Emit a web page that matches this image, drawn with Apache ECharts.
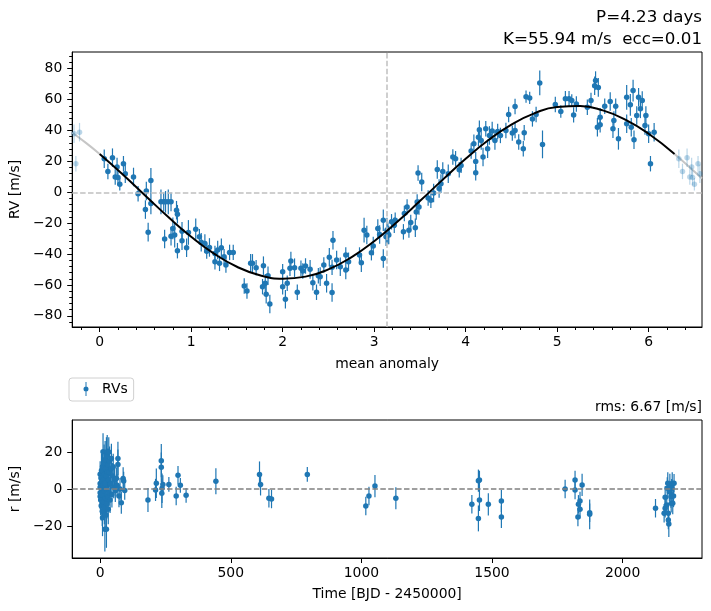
<!DOCTYPE html>
<html>
<head>
<meta charset="utf-8">
<script src="https://cdn.jsdelivr.net/npm/echarts@6/dist/echarts.min.js"></script>
<style>
html, body { margin: 0; padding: 0; background: #fff; }
#chart { width: 711px; height: 611px; }
</style>
</head>
<body>
<div id="chart"></div>
<script>
"use strict";

// phase-folded RVs: [mean anomaly, RV m/s, error m/s]
var rvPoints = [
    [0.05, 21.7, 6], [0.09, 13.5, 5], [0.14, 22.4, 6], [0.17, 9.9, 5], [0.19, 16.3, 6], [0.20, 9.5, 5],
    [0.22, 5.2, 4], [0.26, 18.5, 5], [0.28, 12, 6], [0.37, 9.9, 6], [0.42, -0.9, 5], [0.51, 0.8, 6],
    [0.50, -11.2, 6], [0.53, -25.8, 6], [0.56, 7.7, 8], [0.56, -7.3, 7], [0.67, -6.2, 8], [0.70, -6.2, 6],
    [0.72, -6.2, 7], [0.75, -6.2, 8], [0.78, -6.2, 6], [0.84, -11.6, 6], [0.85, -14.2, 6], [0.80, -23.4, 7],
    [0.78, -28.4, 6], [0.71, -30.3, 6], [0.85, -37.8, 5], [0.82, -27.7, 8], [0.90, -25.2, 6], [0.95, -35.9, 6],
    [0.97, -26.0, 8], [0.90, -31.4, 6], [1.05, -23.9, 7], [1.09, -28.8, 5], [1.11, -32.3, 6], [1.15, -33.1, 6],
    [1.17, -38.1, 5], [1.20, -35.7, 6], [1.26, -39.6, 5], [1.29, -37.4, 6], [1.33, -35.9, 6], [1.26, -45, 5],
    [1.31, -46, 5], [1.38, -47.1, 5], [1.42, -38.9, 5], [1.46, -38.9, 5], [1.36, -41.7, 5],
    [1.58, -60.6, 5], [1.61, -63.9, 5], [1.65, -46, 6], [1.67, -46, 6], [1.71, -48.8, 5], [1.79, -47.5, 6],
    [1.78, -61.1, 5], [1.81, -58.9, 6], [1.82, -66, 6], [1.86, -72.3, 6], [1.84, -54, 6], [2.00, -51.4, 5],
    [2.00, -61.1, 5], [2.03, -69.2, 6], [2.05, -58.9, 5], [2.08, -49.2, 5], [2.09, -44.5, 6], [2.13, -48.8, 6],
    [2.16, -64.7, 5], [2.20, -49.2, 5], [2.22, -51, 5], [2.25, -47.7, 5], [2.30, -49.9, 6], [2.33, -58.5, 5],
    [2.37, -64.7, 5], [2.39, -54, 5], [2.41, -54.6, 6], [2.45, -47.1, 5], [2.48, -58.9, 6], [2.51, -42.1, 6],
    [2.54, -64.9, 6], [2.55, -31, 6], [2.54, -48.6, 5], [2.59, -43.9, 6], [2.63, -48.2, 6], [2.69, -50.3, 6],
    [2.69, -40.6, 5], [2.72, -45, 6], [2.84, -40.6, 5], [2.86, -45.6, 6], [2.89, -24.5, 8], [2.92, -27.7, 6],
    [2.97, -39.1, 5], [2.99, -34.8, 6], [3.04, -23.4, 6], [3.06, -27.3, 6], [3.10, -18.1, 7], [3.10, -42.8, 6],
    [3.14, -24.5, 8], [3.16, -27.7, 6], [3.19, -19.1, 5], [3.23, -18.1, 5],
    [3.13, -28.8, 6], [3.15, -26.6, 7], [3.22, -21.3, 5], [3.32, -25.6, 5], [3.33, -13.7, 5], [3.36, -9.5, 5],
    [3.38, -24.5, 5], [3.40, -19.6, 5], [3.45, -23, 6], [3.46, -12.7, 5], [3.47, -6.3, 5], [3.48, 12.5, 5],
    [3.52, 6.6, 6], [3.49, -9.5, 5], [3.59, -3.7, 5], [3.62, -5.2, 5], [3.65, -0.5, 6], [3.69, 14.8, 6],
    [3.71, 2.4, 6], [3.73, 5.6, 6], [3.75, 13.5, 6], [3.81, 12, 6], [3.86, 22.8, 5], [3.89, 21.7, 5],
    [3.93, 14.6, 5], [3.95, 17.4, 5], [4.06, 26.7, 5], [4.09, 31.4, 6], [4.11, 20, 6], [4.11, 12.7, 5],
    [4.14, 35.7, 6], [4.15, 40.4, 6], [4.17, 33.5, 6], [4.19, 22.8, 6], [4.22, 41.1, 5], [4.24, 28.2, 6],
    [4.26, 36.8, 6], [4.29, 39.6, 6], [4.32, 33.5, 6], [4.35, 39.4, 5], [4.38, 36.8, 5], [4.44, 40, 5],
    [4.47, 50.3, 5], [4.51, 38.3, 5], [4.54, 55.5, 5], [4.54, 40, 5], [4.58, 32.5, 5], [4.63, 28.2, 5],
    [4.64, 38.5, 5], [4.66, 61.9, 4], [4.70, 61.1, 4], [4.73, 47.5, 5], [4.77, 50.3, 5], [4.81, 70.8, 8],
    [4.84, 31, 9],
    [4.98, 56.8, 5], [5.04, 52.3, 4], [5.09, 60.5, 5], [5.13, 60.5, 5], [5.16, 59.4, 4], [5.18, 50.1, 5],
    [5.21, 57.2, 5], [5.33, 55, 5], [5.37, 59.4, 5], [5.41, 69, 6], [5.42, 72.3, 6], [5.45, 67.9, 6],
    [5.44, 42.1, 6], [5.47, 48.6, 6], [5.47, 43.7, 5], [5.52, 55.7, 5], [5.58, 58.7, 6], [5.61, 41.1, 6],
    [5.62, 46.5, 6], [5.64, 55.7, 5], [5.67, 34.6, 7], [5.76, 61.5, 8], [5.76, 44.3, 6], [5.80, 56.6, 7],
    [5.81, 42.1, 6], [5.83, 65.8, 7], [5.84, 34, 6], [5.87, 49.7, 6], [5.89, 61.5, 6], [5.91, 54, 6],
    [5.93, 59.4, 6], [5.96, 43.2, 6], [5.97, 49.7, 6], [6.00, 37.9, 6], [6.06, 38.9, 6], [6.02, 18.5, 5]
];

// wrapped copies shown faded outside 0..2pi
var rvFadedPoints = [
    [-0.28, 37.9, 6], [-0.22, 38.9, 6], [-0.26, 18.5, 5],
    [6.33, 21.7, 6], [6.37, 13.5, 5], [6.42, 22.4, 6], [6.45, 9.9, 5], [6.47, 16.3, 6],
    [6.48, 9.5, 5], [6.50, 5.2, 4], [6.54, 18.5, 5], [6.56, 12, 6]
];

// keplerian model
var modelCurve = [
    [0, 24.8], [0.25, 11.7], [0.5, -2.2], [0.75, -16.0], [1.0, -28.8], [1.25, -39.7], [1.5, -48.2],
    [1.75, -53.7], [2.0, -55.9], [2.25, -54.6], [2.5, -49.9], [2.75, -42.1], [3.0, -31.7], [3.25, -19.3],
    [3.5, -5.7], [3.75, 8.2], [4.0, 21.7], [4.25, 33.8], [4.5, 43.8], [4.75, 51.1], [5.0, 55.2],
    [5.25, 55.8], [5.5, 53.0], [5.75, 46.9], [6.0, 37.9], [6.283, 24.8]
];
var modelLeft = [[-0.3, 38.5], [-0.15, 32.0], [0, 24.8]];
var modelRight = [[6.283, 24.8], [6.43, 17.2], [6.583, 8.9]];

// residuals: [BJD - 2450000, r m/s, error m/s]
var residualsFirst = [
    [0, 8, 7], [0, 3, 8], [0, -2, 6], [0, -4, 7], [0, 1, 6], [2, -6, 8], [3, 6, 7], [4, -9, 8],
    [5, 10, 9], [6, -3, 7], [7, 4, 8], [8, -12, 8], [9, -15.5, 10], [9, 12, 9], [10, 2, 8], [11, 20.2, 10],
    [12, -7, 8], [13, 5, 9], [14, -1, 8], [15, 14, 10], [16, -10, 9], [17, 8, 9], [18, -21.8, 12], [18, 3, 9],
    [19, 16, 10], [20, -5, 8], [21, 11, 9], [22, -14, 9], [23, 7, 8], [24, -21.8, 10], [24, 18, 10], [25, 0, 8],
    [26, -8, 8], [27, 20.2, 9], [28, 9, 9], [29, -4, 8], [30, 13, 9], [31, -11, 8], [32, 5, 8], [33, 20, 8],
    [34, -2, 7], [35, 9, 8], [36, 15, 8], [38, -6, 7], [40, 3, 7], [42, 11, 7], [43, 16.5, 8], [45, -3, 7],
    [48, 7, 7], [50, 12, 7], [52, 1, 6], [55, 5, 6], [58, -1, 6], [62, 5.7, 6], [65, 2, 6], [68, 16.5, 9],
    [68, 13.3, 8], [72, -3.8, 6], [76, 0, 6], [81, -7.4, 6], [88, 5.7, 6], [90, 4.3, 5], [94, -0.8, 5]
];
var residualsLater = [
    [183, -5.9, 6.5], [212, -0.5, 6], [215, 3.1, 8], [234, 15.3, 9], [234, 11.7, 8], [236, -2.3, 8],
    [237, 0.4, 8], [240, 2.5, 5], [263, 2.5, 4], [291, -3.8, 5], [298, 7.4, 5], [307, 2, 4], [329, -3.4, 4],
    [443, 4.2, 7], [610, 7.9, 7], [614, 2.5, 6], [646, -5, 5], [656, -5.4, 5], [793, 7.9, 4],
    [1017, -9.2, 5], [1029, -3.8, 5], [1052, 1.6, 6], [1132, -5, 6],
    [1423, -8.3, 5], [1448, 4.5, 6], [1452, 4.9, 5], [1448, -15.9, 7], [1452, -5.9, 6], [1486, -8.3, 6],
    [1536, -6.5, 6], [1536, -15.1, 6],
    [1780, 0, 5], [1818, 4.9, 5], [1818, -0.5, 5], [1831, -8.3, 5], [1837, -6.5, 5], [1837, -11, 5],
    [1829, -15.1, 5], [1845, 2.2, 6], [1874, -12.8, 5], [1874, -13.7, 8],
    [2126, -10.4, 5], [2159, -13.1, 5], [2163, -10.4, 5], [2163, -4.5, 6], [2169, -8.6, 5], [2171, 0.4, 6],
    [2173, 3.1, 6], [2175, -13.1, 5], [2175, -16.8, 5], [2177, -18.9, 7], [2179, -1.5, 5], [2181, 2.2, 6],
    [2185, -4.2, 6], [2186, -7.7, 5], [2188, 0.4, 5], [2190, 3.1, 6], [2192, -7.7, 6], [2195, -3.8, 6],
    [2197, 3.1, 5]
];

var phaseTicks = [0, 1, 2, 3, 4, 5, 6];
var phaseMinorTicks = [-0.2, 0.2, 0.4, 0.6, 0.8, 1.2, 1.4, 1.6, 1.8, 2.2, 2.4, 2.6, 2.8, 3.2, 3.4, 3.6, 3.8,
    4.2, 4.4, 4.6, 4.8, 5.2, 5.4, 5.6, 5.8, 6.2, 6.4];
var rvTicks = [-80, -60, -40, -20, 0, 20, 40, 60, 80];
var rvMinorTicks = [-84, -76, -72, -68, -64, -56, -52, -48, -44, -36, -32, -28, -24, -16, -12, -8, -4,
    4, 8, 12, 16, 24, 28, 32, 36, 44, 48, 52, 56, 64, 68, 72, 76, 84, 88];
var timeTicks = [0, 500, 1000, 1500, 2000];
var resTicks = [-20, 0, 20];

var BLUE = "#1f77b4";
var FONT = "DejaVu Sans";
var TICK_FS = 13.9;

var chart = echarts.init(document.getElementById("chart"), null, { renderer: "canvas" });

function minus(v) { return String(v).replace("-", "\u2212"); }

function errorBars(xi, yi, data, opacity) {
    return {
        type: "custom",
        xAxisIndex: xi,
        yAxisIndex: yi,
        clip: true,
        silent: true,
        z: 3,
        data: data,
        renderItem: function(params, api) {
            var x = api.value(0), y = api.value(1), e = api.value(2);
            var a = api.coord([x, y - e]),
                b = api.coord([x, y + e]);
            return {
                type: "line",
                shape: { x1: a[0], y1: a[1], x2: b[0], y2: b[1] },
                style: { stroke: BLUE, lineWidth: 1.2, opacity: opacity }
            };
        }
    };
}

function dots(name, xi, yi, data, opacity) {
    return {
        name: name,
        type: "scatter",
        xAxisIndex: xi,
        yAxisIndex: yi,
        symbolSize: 5.5,
        z: 4,
        data: data,
        itemStyle: { color: BLUE, opacity: opacity }
    };
}

function mainAxis(grid, pos, min, max, ticks, name, gap) {
    var isY = pos === "left";
    return {
        type: "value",
        gridIndex: grid,
        position: pos,
        min: min,
        max: max,
        name: name,
        nameLocation: "middle",
        nameGap: gap,
        nameTextStyle: { color: "#000", fontFamily: FONT, fontSize: TICK_FS },
        axisLine: { show: true, onZero: false, lineStyle: { color: "#000", width: 1 } },
        axisTick: { show: true, customValues: ticks, length: 5, lineStyle: { color: "#000", width: 1 } },
        axisLabel: {
            customValues: ticks, color: "#000", fontFamily: FONT, fontSize: TICK_FS,
            margin: isY ? 10 : 8, formatter: minus
        },
        splitLine: { show: false }
    };
}

function minorAxis(grid, pos, min, max, ticks) {
    return {
        type: "value",
        gridIndex: grid,
        position: pos,
        min: min,
        max: max,
        axisLine: { show: false, onZero: false },
        axisTick: { show: true, customValues: ticks, length: 3, lineStyle: { color: "#000", width: 1 } },
        axisLabel: { show: false },
        splitLine: { show: false }
    };
}

var option = {
    animation: false,
    backgroundColor: "#fff",
    textStyle: { fontFamily: FONT },
    title: [
        { text: "P=4.23 days", right: 9, top: 9, padding: 0,
            textStyle: { color: "#000", fontFamily: FONT, fontSize: 16.7, fontWeight: "normal" } },
        { text: "K=55.94 m/s  ecc=0.01", right: 9, top: 31, padding: 0,
            textStyle: { color: "#000", fontFamily: FONT, fontSize: 16.7, fontWeight: "normal" } },
        { text: "rms: 6.67 [m/s]", right: 9, top: 400, padding: 0,
            textStyle: { color: "#000", fontFamily: FONT, fontSize: TICK_FS, fontWeight: "normal" } }
    ],
    legend: {
        left: 69,
        top: 378,
        padding: [4, 6, 5, 6],
        borderColor: "#d0d0d0",
        borderWidth: 1,
        borderRadius: 3,
        itemWidth: 22,
        itemHeight: 14,
        textStyle: { color: "#000", fontFamily: FONT, fontSize: TICK_FS },
        data: [{
            name: "RVs",
            icon: "path://M0,7 L0.01,7 L0,7.01 Z M22,7 L21.99,7 L22,7.01 Z M10.5,0 H11.5 V14 H10.5 Z " +
                "M8.5,7 A2.5,2.5 0 1 1 13.5,7 A2.5,2.5 0 1 1 8.5,7 Z",
            itemStyle: { color: BLUE }
        }]
    },
    grid: [
        { left: 69, right: 9, top: 52, height: 275, show: true, borderColor: "#000", borderWidth: 1, backgroundColor: "transparent" },
        { left: 69, right: 9, top: 420, height: 138, show: true, borderColor: "#000", borderWidth: 1, backgroundColor: "transparent" }
    ],
    xAxis: [
        mainAxis(0, "bottom", -0.3, 6.5832, phaseTicks, "mean anomaly", 30),
        minorAxis(0, "bottom", -0.3, 6.5832, phaseMinorTicks),
        mainAxis(1, "bottom", -107, 2304, timeTicks, "Time [BJD - 2450000]", 29)
    ],
    yAxis: [
        mainAxis(0, "left", -87.2, 90.8, rvTicks, "RV [m/s]", 45),
        minorAxis(0, "left", -87.2, 90.8, rvMinorTicks),
        mainAxis(1, "left", -37.3, 37.3, resTicks, "r [m/s]", 45)
    ],
    series: [
        {
            type: "line",
            xAxisIndex: 0,
            yAxisIndex: 0,
            data: [],
            silent: true,
            z: 1,
            markLine: {
                silent: true,
                symbol: "none",
                label: { show: false },
                lineStyle: { color: "#c0c0c0", type: [5.5, 2.4], width: 1.5 },
                data: [{ yAxis: 0 }, { xAxis: Math.PI }]
            }
        },
        {
            type: "line", xAxisIndex: 0, yAxisIndex: 0, data: modelLeft, smooth: true, showSymbol: false,
            silent: true, z: 2, lineStyle: { color: "#c6c6c6", width: 2 }
        },
        {
            type: "line", xAxisIndex: 0, yAxisIndex: 0, data: modelRight, smooth: true, showSymbol: false,
            silent: true, z: 2, lineStyle: { color: "#c6c6c6", width: 2 }
        },
        errorBars(0, 0, rvFadedPoints, 0.3),
        dots("faded", 0, 0, rvFadedPoints, 0.3),
        errorBars(0, 0, rvPoints, 1),
        dots("RVs", 0, 0, rvPoints, 1),
        {
            type: "line", xAxisIndex: 0, yAxisIndex: 0, data: modelCurve, smooth: true, showSymbol: false,
            silent: true, z: 5, lineStyle: { color: "#000", width: 2 }
        },
        {
            type: "line",
            xAxisIndex: 2,
            yAxisIndex: 2,
            data: [],
            silent: true,
            z: 1,
            markLine: {
                silent: true,
                symbol: "none",
                label: { show: false },
                lineStyle: { color: "#808080", type: [5.5, 2.4], width: 1.5 },
                data: [{ yAxis: 0 }]
            }
        },
        errorBars(2, 2, residualsFirst.concat(residualsLater), 1),
        dots("residuals", 2, 2, residualsFirst.concat(residualsLater), 1)
    ]
};

chart.setOption(option);
</script>
</body>
</html>
